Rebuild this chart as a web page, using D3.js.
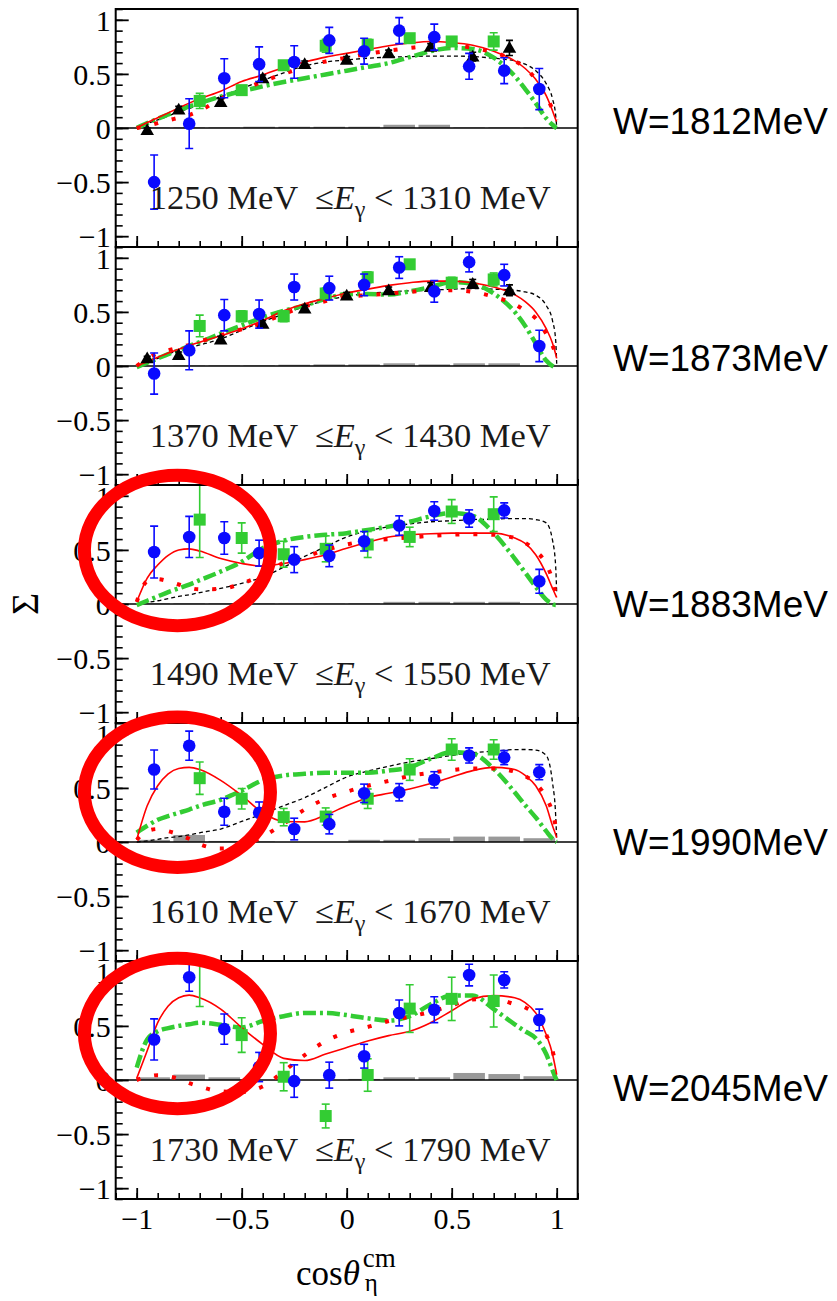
<!DOCTYPE html>
<html>
<head>
<meta charset="utf-8">
<script src="https://cdn.jsdelivr.net/npm/d3@7"></script>
<style>
  html, body { margin: 0; padding: 0; background: #ffffff; }
  svg { display: block; }
</style>
</head>
<body>
<script>
// ---------------- data ----------------
const energyLow  = [1250, 1370, 1490, 1610, 1730];
const energyHigh = [1310, 1430, 1550, 1670, 1790];
const wLabels = ["W=1812MeV", "W=1873MeV", "W=1883MeV", "W=1990MeV", "W=2045MeV"];

// cos(theta) bin centres of the blue data set
const binCenters = [-0.917, -0.75, -0.583, -0.417, -0.25, -0.083, 0.083, 0.25, 0.417, 0.583, 0.75, 0.917];
const blueSigma = [
  [-0.50, 0.04, 0.46, 0.59, 0.61, 0.81, 0.71, 0.90, 0.84, 0.57, 0.53, 0.36],
  [-0.07, 0.145, 0.47, 0.48, 0.73, 0.72, 0.75, 0.91, 0.69, 0.96, 0.84, 0.185],
  [0.48, 0.62, 0.61, 0.47, 0.41, 0.445, 0.58, 0.725, 0.86, 0.79, 0.865, 0.21],
  [0.67, 0.89, 0.28, 0.27, 0.12, 0.165, 0.45, 0.46, 0.575, 0.80, 0.78, 0.645],
  [0.375, 0.95, 0.47, 0.12, -0.01, 0.045, 0.22, 0.62, 0.65, 0.97, 0.925, 0.555]
];
const blueErr = [
  [0.25, 0.23, 0.18, 0.16, 0.15, 0.12, 0.12, 0.12, 0.12, 0.12, 0.12, 0.19],
  [0.19, 0.18, 0.145, 0.13, 0.12, 0.11, 0.10, 0.10, 0.10, 0.09, 0.10, 0.145],
  [0.24, 0.19, 0.15, 0.12, 0.12, 0.10, 0.09, 0.09, 0.085, 0.08, 0.07, 0.11],
  [0.18, 0.135, 0.125, 0.10, 0.10, 0.09, 0.085, 0.08, 0.075, 0.07, 0.065, 0.07],
  [0.19, 0.13, 0.14, 0.135, 0.15, 0.12, 0.11, 0.12, 0.12, 0.10, 0.075, 0.10]
];
// systematic uncertainty (grey bars) of the blue data set
const sysErr = [
  [0.005, 0.005, 0.005, 0.012, 0.012, 0.012, 0.012, 0.03, 0.03, 0.005, 0.005, 0.005],
  [0.0, 0.004, 0.005, 0.005, 0.012, 0.015, 0.015, 0.025, 0.015, 0.025, 0.025, 0.0],
  [0.005, 0.005, 0.005, 0.005, 0.003, 0.003, 0.005, 0.02, 0.02, 0.02, 0.02, 0.0],
  [0.02, 0.065, 0.01, 0.005, 0.0, 0.0, 0.02, 0.02, 0.035, 0.05, 0.05, 0.035],
  [0.025, 0.05, 0.025, 0.0, 0.0, 0.0, 0.01, 0.025, 0.025, 0.065, 0.055, 0.035]
];

// second data set (green squares)
const greenCos = [-0.7, -0.5, -0.3, -0.1, 0.1, 0.3, 0.5, 0.7];
const greenSigma = [
  [0.25, 0.35, 0.58, 0.76, 0.77, 0.83, 0.80, 0.80],
  [0.37, 0.46, 0.46, 0.67, 0.82, 0.94, 0.77, 0.80],
  [0.78, 0.61, 0.46, 0.51, 0.55, 0.62, 0.855, 0.83],
  [0.59, 0.40, 0.23, 0.235, 0.40, 0.67, 0.855, 0.855],
  [1.16, 0.415, 0.03, -0.333, 0.046, 0.66, 0.75, 0.73]
];
const greenErr = [
  [0.07, 0.04, 0.04, 0.06, 0.05, 0.04, 0.04, 0.08],
  [0.10, 0.05, 0.05, 0.05, 0.05, 0.04, 0.05, 0.06],
  [0.35, 0.14, 0.12, 0.12, 0.12, 0.09, 0.11, 0.16],
  [0.15, 0.095, 0.08, 0.08, 0.09, 0.10, 0.10, 0.09],
  [0.48, 0.16, 0.13, 0.11, 0.15, 0.22, 0.20, 0.24]
];

// third data set (black triangles), first two energy bins only
const triCos = [-0.95, -0.8, -0.6, -0.4, -0.2, 0.0, 0.2, 0.4, 0.6, 0.775];
const triSigma = [
  [-0.02, 0.17, 0.24, 0.46, 0.59, 0.63, 0.69, 0.75, 0.66, 0.74],
  [0.07, 0.10, 0.245, 0.39, 0.53, 0.65, 0.70, 0.73, 0.76, 0.70]
];
const triErr = [
  [0.02, 0.03, 0.03, 0.03, 0.03, 0.03, 0.03, 0.03, 0.04, 0.07],
  [0.02, 0.03, 0.03, 0.03, 0.03, 0.03, 0.03, 0.04, 0.04, 0.05]
];

// model curves sampled on a common cos(theta) grid
const curveCos = [-1, -0.95, -0.9, -0.85, -0.8, -0.75, -0.7, -0.6, -0.5, -0.4, -0.3, -0.2, -0.1, 0,
                  0.1, 0.2, 0.3, 0.4, 0.5, 0.6, 0.7, 0.8, 0.85, 0.9, 0.95, 0.98, 0.995, 1.0];
const modelSolid = [
  [0, 0.05, 0.095, 0.14, 0.185, 0.23, 0.27, 0.34, 0.43, 0.49, 0.56, 0.61, 0.655, 0.69,
   0.725, 0.76, 0.785, 0.80, 0.79, 0.765, 0.71, 0.62, 0.55, 0.45, 0.30, 0.16, 0.08, 0.06],
  [0, 0.04, 0.08, 0.12, 0.155, 0.19, 0.22, 0.28, 0.345, 0.42, 0.51, 0.575, 0.625, 0.675,
   0.71, 0.745, 0.77, 0.785, 0.785, 0.77, 0.73, 0.66, 0.595, 0.50, 0.345, 0.21, 0.11, 0.07],
  [0.02, 0.24, 0.36, 0.45, 0.50, 0.51, 0.49, 0.42, 0.375, 0.35, 0.375, 0.41, 0.455, 0.515,
   0.57, 0.62, 0.64, 0.65, 0.655, 0.655, 0.655, 0.61, 0.56, 0.455, 0.28, 0.145, 0.08, 0.06],
  [0.02, 0.335, 0.52, 0.63, 0.68, 0.69, 0.67, 0.57, 0.43, 0.27, 0.19, 0.186, 0.25, 0.335,
   0.41, 0.45, 0.49, 0.54, 0.60, 0.66, 0.69, 0.67, 0.615, 0.52, 0.335, 0.15, 0.07, 0.04],
  [0.015, 0.27, 0.53, 0.685, 0.76, 0.785, 0.76, 0.655, 0.485, 0.33, 0.20, 0.18, 0.24, 0.30,
   0.36, 0.41, 0.45, 0.53, 0.64, 0.75, 0.78, 0.76, 0.716, 0.62, 0.42, 0.24, 0.10, 0.05]
];
const modelDotted = [
  [0, 0.02, 0.045, 0.07, 0.095, 0.12, 0.16, 0.27, 0.35, 0.43, 0.50, 0.565, 0.615, 0.65,
   0.685, 0.715, 0.74, 0.76, 0.765, 0.74, 0.70, 0.62, 0.555, 0.45, 0.29, 0.17, 0.09, 0.07],
  [0, 0.07, 0.115, 0.145, 0.17, 0.195, 0.225, 0.285, 0.34, 0.40, 0.48, 0.55, 0.60, 0.64,
   0.655, 0.67, 0.685, 0.70, 0.70, 0.685, 0.64, 0.57, 0.51, 0.44, 0.30, 0.19, 0.11, 0.08],
  [0.02, 0.21, 0.23, 0.21, 0.18, 0.15, 0.135, 0.14, 0.19, 0.27, 0.38, 0.435, 0.50, 0.55,
   0.585, 0.60, 0.615, 0.63, 0.64, 0.645, 0.64, 0.61, 0.565, 0.49, 0.37, 0.22, 0.10, 0.05],
  [0.02, 0.10, 0.12, 0.10, 0.07, 0.03, -0.02, -0.06, -0.04, 0.05, 0.17, 0.30, 0.40, 0.465,
   0.52, 0.565, 0.61, 0.64, 0.665, 0.68, 0.68, 0.65, 0.61, 0.54, 0.41, 0.27, 0.14, 0.07],
  [0, 0.03, 0.045, 0.035, 0.01, -0.03, -0.06, -0.105, -0.11, -0.06, 0.08, 0.23, 0.36, 0.44,
   0.49, 0.545, 0.585, 0.63, 0.69, 0.745, 0.75, 0.70, 0.67, 0.60, 0.42, 0.27, 0.15, 0.11]
];
const modelDashed = [
  [0, 0.04, 0.075, 0.11, 0.15, 0.18, 0.22, 0.29, 0.365, 0.44, 0.51, 0.575, 0.61, 0.63,
   0.645, 0.655, 0.66, 0.665, 0.665, 0.66, 0.645, 0.62, 0.59, 0.53, 0.41, 0.27, 0.12, 0.01],
  [0, 0.035, 0.07, 0.11, 0.145, 0.17, 0.195, 0.25, 0.33, 0.41, 0.48, 0.55, 0.605, 0.645,
   0.67, 0.685, 0.695, 0.70, 0.71, 0.715, 0.71, 0.70, 0.685, 0.655, 0.56, 0.42, 0.24, 0.02],
  [0, 0.015, 0.03, 0.05, 0.07, 0.085, 0.105, 0.145, 0.19, 0.25, 0.34, 0.44, 0.53, 0.62,
   0.675, 0.715, 0.74, 0.76, 0.77, 0.78, 0.785, 0.79, 0.79, 0.78, 0.75, 0.59, 0.35, 0.10],
  [0, 0.01, 0.025, 0.04, 0.05, 0.065, 0.085, 0.12, 0.19, 0.26, 0.335, 0.41, 0.505, 0.60,
   0.655, 0.70, 0.74, 0.77, 0.80, 0.825, 0.84, 0.854, 0.855, 0.85, 0.80, 0.55, 0.25, 0.025],
  null
];
const modelDashDot = [
  [0, 0.045, 0.085, 0.125, 0.165, 0.20, 0.23, 0.29, 0.34, 0.385, 0.425, 0.46, 0.495, 0.53,
   0.565, 0.60, 0.655, 0.71, 0.74, 0.73, 0.65, 0.48, 0.36, 0.23, 0.09, 0.03, 0.005, 0],
  [-0.01, 0.03, 0.07, 0.11, 0.145, 0.185, 0.22, 0.30, 0.375, 0.45, 0.51, 0.56, 0.62, 0.665,
   0.665, 0.66, 0.69, 0.73, 0.775, 0.76, 0.67, 0.50, 0.37, 0.21, 0.05, 0.0, -0.01, -0.01],
  [-0.01, 0.03, 0.07, 0.11, 0.145, 0.18, 0.22, 0.30, 0.39, 0.515, 0.585, 0.62, 0.64, 0.655,
   0.685, 0.715, 0.76, 0.81, 0.84, 0.815, 0.655, 0.42, 0.29, 0.16, 0.04, 0.0, -0.01, -0.01],
  [0.087, 0.15, 0.205, 0.24, 0.27, 0.30, 0.335, 0.39, 0.475, 0.57, 0.615, 0.63, 0.64, 0.64,
   0.64, 0.66, 0.69, 0.77, 0.83, 0.816, 0.677, 0.46, 0.34, 0.227, 0.10, 0.03, 0.005, 0],
  [0.115, 0.375, 0.45, 0.48, 0.50, 0.515, 0.53, 0.51, 0.485, 0.545, 0.59, 0.62, 0.62, 0.60,
   0.57, 0.55, 0.59, 0.70, 0.78, 0.78, 0.655, 0.515, 0.45, 0.385, 0.24, 0.09, 0.02, 0]
];

// highlighted forward-angle region (red ellipses) in the upper three energy bins
const highlightPanel = [2, 3, 4];
const highlightCos   = [-0.806, -0.806, -0.806];
const highlightSigma = [0.495, 0.46, 0.43];
const highlightHalfCos   = 0.443;
const highlightHalfSigma = 0.695;

const yTicksMajor = [-1, -0.5, 0, 0.5, 1];
const xTicksMajor = [-1, -0.5, 0, 0.5, 1];

// ---------------- layout ----------------
const W = 837, H = 1301;
const frameL = 115.7, frameR = 577.7, frameTop = 9, panelH = 238;
const wLabelShift = [6, 5, 13, 13, 21];
const serif = "'Liberation Serif', 'Times New Roman', serif";
const sans  = "'Liberation Sans', Arial, sans-serif";
const cBlue = "#0a0aff", cGreen = "#33cc33", cRed = "#ff0000", cGrey = "#999999";
const tickFont = 30;

const svg = d3.select("body").append("svg")
  .attr("width", W).attr("height", H)
  .attr("xmlns", "http://www.w3.org/2000/svg");
svg.append("rect").attr("width", W).attr("height", H).attr("fill", "#fff");

const x = d3.scaleLinear().domain([-1.1, 1.1]).range([frameL, frameR]);
const fmt = d3.format("~g");
const minorTicks = d3.range(-11, 12).map(k => k / 10);
const defs = svg.append("defs");

energyLow.forEach((lo, i) => {
  const top = frameTop + i * panelH;
  const y = d3.scaleLinear().domain([-1.1, 1.1]).range([top + panelH, top]);
  const clipId = "panel-clip-" + i;
  defs.append("clipPath").attr("id", clipId)
    .append("rect").attr("x", frameL).attr("y", top)
    .attr("width", frameR - frameL).attr("height", panelH);

  const plot = svg.append("g").attr("clip-path", `url(#${clipId})`);

  // systematic error bars
  const binW = (binCenters[1] - binCenters[0]) * 0.9;
  plot.append("g").selectAll("rect").data(binCenters).join("rect")
    .attr("x", (c) => x(c - binW / 2))
    .attr("width", (c) => x(c + binW / 2) - x(c - binW / 2))
    .attr("y", (c, k) => y(sysErr[i][k]))
    .attr("height", (c, k) => y(0) - y(sysErr[i][k]))
    .attr("fill", cGrey);

  // zero line
  plot.append("line")
    .attr("x1", frameL).attr("x2", frameR)
    .attr("y1", y(0)).attr("y2", y(0))
    .attr("stroke", "#000").attr("stroke-width", 1.6);

  // model curves
  const line = d3.line().x((d) => x(d[0])).y((d) => y(d[1])).curve(d3.curveMonotoneX);
  const pts = (arr) => curveCos.map((c, k) => [c, arr[k]]);
  if (modelDashed[i]) {
    plot.append("path").attr("d", line(pts(modelDashed[i])))
      .attr("fill", "none").attr("stroke", "#000")
      .attr("stroke-width", 1.3).attr("stroke-dasharray", "4,3");
  }
  plot.append("path").attr("d", line(pts(modelDashDot[i])))
    .attr("fill", "none").attr("stroke", cGreen)
    .attr("stroke-width", 4.5).attr("stroke-dasharray", "13,4,3,4");
  plot.append("path").attr("d", line(pts(modelDotted[i])))
    .attr("fill", "none").attr("stroke", cRed)
    .attr("stroke-width", 4).attr("stroke-dasharray", "4,14");
  plot.append("path").attr("d", line(pts(modelSolid[i])))
    .attr("fill", "none").attr("stroke", cRed).attr("stroke-width", 1.6);

  // error bar helper
  const errBars = (g, xs, vals, errs, color, cap) => {
    const eg = g.append("g").attr("stroke", color).attr("stroke-width", 1.6);
    xs.forEach((c, k) => {
      const px = x(c), y1 = y(vals[k] - errs[k]), y2 = y(vals[k] + errs[k]);
      eg.append("line").attr("x1", px).attr("x2", px).attr("y1", y1).attr("y2", y2);
      eg.append("line").attr("x1", px - cap).attr("x2", px + cap).attr("y1", y1).attr("y2", y1);
      eg.append("line").attr("x1", px - cap).attr("x2", px + cap).attr("y1", y2).attr("y2", y2);
    });
  };

  // green squares
  errBars(plot, greenCos, greenSigma[i], greenErr[i], cGreen, 4);
  plot.append("g").selectAll("rect").data(greenCos).join("rect")
    .attr("x", (c) => x(c) - 6).attr("y", (c, k) => y(greenSigma[i][k]) - 6)
    .attr("width", 12).attr("height", 12).attr("fill", cGreen);

  // black triangles
  if (i < triSigma.length) {
    errBars(plot, triCos, triSigma[i], triErr[i], "#000", 3.5);
    plot.append("g").selectAll("path").data(triCos).join("path")
      .attr("d", d3.symbol().type(d3.symbolTriangle).size(80))
      .attr("transform", (c, k) => `translate(${x(c)},${y(triSigma[i][k]) + 1})`)
      .attr("fill", "#000");
  }

  // blue circles
  errBars(plot, binCenters, blueSigma[i], blueErr[i], cBlue, 4);
  plot.append("g").selectAll("circle").data(binCenters).join("circle")
    .attr("cx", (c) => x(c)).attr("cy", (c, k) => y(blueSigma[i][k]))
    .attr("r", 6.3).attr("fill", cBlue);

  // axes (ticks inside the frame)
  const axL = svg.append("g").attr("transform", `translate(${frameL},0)`);
  axL.call(d3.axisLeft(y).tickValues(minorTicks).tickSizeInner(-7).tickSizeOuter(0).tickFormat(""));
  axL.select(".domain").remove();
  axL.selectAll("line").attr("stroke-width", 1.6);
  const axL2 = svg.append("g").attr("transform", `translate(${frameL},0)`);
  axL2.call(d3.axisLeft(y).tickValues(yTicksMajor).tickSizeInner(-13).tickSizeOuter(0)
    .tickPadding(5).tickFormat(fmt));
  axL2.select(".domain").remove();
  axL2.selectAll("line").attr("stroke-width", 1.8);
  axL2.selectAll("text").attr("font-family", serif).attr("font-size", tickFont).attr("fill", "#000")
    .attr("dy", "0.34em");

  const axB = svg.append("g").attr("transform", `translate(0,${top + panelH})`);
  axB.call(d3.axisBottom(x).tickValues(minorTicks).tickSizeInner(-6).tickSizeOuter(0).tickFormat(""));
  axB.select(".domain").remove();
  axB.selectAll("line").attr("stroke-width", 1.6);
  const axB2 = svg.append("g").attr("transform", `translate(0,${top + panelH})`);
  axB2.call(d3.axisBottom(x).tickValues(xTicksMajor).tickSizeInner(-11).tickSizeOuter(0)
    .tickPadding(9).tickFormat(i === energyLow.length - 1 ? fmt : () => ""));
  axB2.select(".domain").remove();
  axB2.selectAll("line").attr("stroke-width", 1.8);
  axB2.selectAll("text").attr("font-family", serif).attr("font-size", tickFont).attr("fill", "#000")
    .attr("dy", "0.71em");

  // frame
  svg.append("rect").attr("x", frameL).attr("y", top)
    .attr("width", frameR - frameL).attr("height", panelH)
    .attr("fill", "none").attr("stroke", "#000").attr("stroke-width", 2);

  // photon energy range
  const lab = svg.append("text").attr("x", frameL + 34).attr("y", y(-0.75))
    .attr("font-family", serif).attr("font-size", 33).attr("fill", "#1a1a1a")
    .attr("textLength", 401).attr("lengthAdjust", "spacingAndGlyphs")
    .style("white-space", "pre");
  lab.append("tspan").text(`${lo} MeV  \u2264`);
  lab.append("tspan").attr("font-style", "italic").text("E");
  lab.append("tspan").attr("font-size", 23).attr("dy", 8).text("\u03b3");
  lab.append("tspan").attr("dy", -8).text(` < ${energyHigh[i]} MeV`);

  // invariant mass label
  svg.append("text").attr("x", 613).attr("y", y(0) + wLabelShift[i])
    .attr("font-family", sans).attr("font-size", 37).attr("fill", "#000")
    .text(wLabels[i]);
});

// highlight ellipses
highlightPanel.forEach((p, k) => {
  const top = frameTop + p * panelH;
  const y = d3.scaleLinear().domain([-1.1, 1.1]).range([top + panelH, top]);
  svg.append("ellipse")
    .attr("cx", x(highlightCos[k])).attr("cy", y(highlightSigma[k]))
    .attr("rx", x(highlightHalfCos) - x(0)).attr("ry", y(0) - y(highlightHalfSigma))
    .attr("fill", "none").attr("stroke", cRed).attr("stroke-width", 13);
});

// axis titles
const yMid = frameTop + 2.5 * panelH;
svg.append("text").attr("transform", `translate(38,${yMid}) rotate(-90)`)
  .attr("text-anchor", "middle").attr("font-family", serif).attr("font-size", 38)
  .attr("fill", "#000").text("\u03a3");

const xt = svg.append("text").attr("x", 296).attr("y", 1285)
  .attr("font-family", serif).attr("font-size", 35).attr("fill", "#000");
xt.append("tspan").text("cos");
xt.append("tspan").attr("font-style", "italic").text("\u03b8");
const xtEnd = 296 + xt.node().getComputedTextLength();
svg.append("text").attr("x", xtEnd + 3).attr("y", 1267)
  .attr("font-family", serif).attr("font-size", 27).attr("fill", "#000").text("cm");
svg.append("text").attr("x", xtEnd + 5).attr("y", 1291)
  .attr("font-family", serif).attr("font-size", 25).attr("fill", "#000").text("\u03b7");
</script>
</body>
</html>
